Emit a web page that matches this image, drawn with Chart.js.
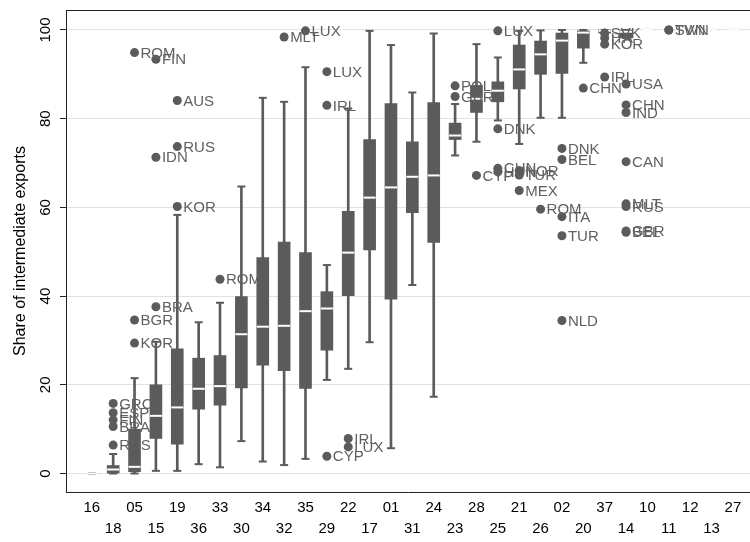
<!DOCTYPE html>
<html>
<head>
<meta charset="utf-8">
<script src="https://cdn.jsdelivr.net/npm/chart.js@4.4.1/dist/chart.umd.min.js"></script>
<style>
  body { margin: 0; background: #fff; }
</style>
</head>
<body>
<canvas id="boxChart" width="750" height="542"></canvas>
<script>
// industry codes, in the order they sit along the x axis
var codes = ['16', '18', '05', '15', '19', '36', '33', '30', '34', '32', '35', '29', '22', '17', '01', '31',
             '24', '23', '28', '25', '21', '26', '02', '20', '37', '14', '10', '11', '12', '13', '27'];

// box statistics per code
var whiskerLow  = [0, 0, 0, 0.6, 0.6, 2.1, 1.4, 7.3, 2.7, 1.9, 3.3, 21.1, 23.6, 29.6, 5.7, 42.5,
                   17.3, 71.7, 74.8, 79.6, 74.3, 80.2, 80.2, 92.6, 99.0, 98.2, 100, 100, 100, 100, 100];
var q1          = [0, 0.1, 0.4, 7.9, 6.6, 14.5, 15.4, 19.3, 24.4, 23.2, 19.2, 27.8, 40.1, 50.4, 39.3, 58.8,
                   52.1, 75.3, 81.4, 83.8, 86.7, 90.0, 90.2, 95.9, 99.3, 98.2, 100, 100, 100, 100, 100];
var median      = [0, 0.9, 1.5, 13.0, 14.9, 19.1, 19.7, 31.4, 33.1, 33.3, 36.6, 37.2, 49.8, 62.2, 64.5, 66.9,
                   67.2, 76.2, 84.5, 86.3, 91.1, 94.5, 97.6, 99.4, 99.8, 99.6, 100, 100, 100, 100, 100];
var q3          = [0, 1.8, 10.0, 20.0, 28.1, 26.0, 26.6, 39.9, 48.7, 52.2, 49.8, 41.0, 59.1, 75.3, 83.4, 74.8,
                   83.6, 79.0, 87.5, 88.3, 96.6, 97.5, 99.3, 99.8, 100, 100, 100, 100, 100, 100, 100];
var whiskerHigh = [0, 4.4, 21.5, 29.7, 58.3, 34.1, 38.5, 64.7, 84.7, 83.8, 91.6, 47.0, 82.3, 99.8, 96.6, 85.9,
                   99.2, 83.3, 96.8, 93.8, 99.8, 99.9, 100, 100, 100, 100, 100, 100, 100, 100, 100];

// outside values with their country labels
var outlierCode = ['05', '05', '05', '18', '18', '18', '18', '18', '15', '15', '15', '19', '19', '19',
                   '33', '32', '35', '29', '29', '29', '22', '22', '23', '23', '28', '25', '25', '25', '25',
                   '21', '21', '21', '26', '02', '02', '02', '02', '02', '20', '37', '37', '37', '37',
                   '14', '14', '14', '14', '14', '14', '14', '14', '11', '11'];
var outlierValue = [94.9, 34.6, 29.4, 15.8, 13.7, 12.1, 10.6, 6.4, 93.4, 71.3, 37.6, 84.1, 73.7, 60.2,
                    43.8, 98.4, 99.8, 90.6, 83.0, 3.9, 7.9, 6.0, 87.4, 85.0, 67.2, 99.8, 77.7, 68.8, 68.0,
                    68.3, 67.3, 63.8, 59.6, 73.3, 70.8, 57.9, 53.6, 34.5, 86.9, 99.3, 98.2, 96.8, 89.4,
                    87.8, 83.1, 81.4, 70.3, 60.8, 60.2, 54.7, 54.4, 100, 100];
var outlierName = ['ROM', 'BGR', 'KOR', 'GRC', 'ESP', 'FIN', 'BRA', 'RUS', 'FIN', 'IDN', 'BRA', 'AUS', 'RUS', 'KOR',
                   'ROM', 'MLT', 'LUX', 'LUX', 'IRL', 'CYP', 'IRL', 'LUX', 'POL', 'GBR', 'CYP', 'LUX', 'DNK', 'CHN', 'HUN',
                   'NOR', 'TUR', 'MEX', 'ROM', 'DNK', 'BEL', 'ITA', 'TUR', 'NLD', 'CHN', 'SVK', 'ITA', 'KOR', 'IRL',
                   'USA', 'CHN', 'IND', 'CAN', 'MLT', 'RUS', 'GBR', 'BEL', 'TWN', 'SVN'];

var yTicks = [0, 20, 40, 60, 80, 100];

var grey = '#5b5b5b';
var fontFamily = '"Liberation Sans", Arial, sans-serif';

var caps = [];
codes.forEach(function(c, i) {
    caps.push({x: i, y: whiskerLow[i]});
    caps.push({x: i, y: whiskerHigh[i]});
});

var outlierLabels = {
    id: 'outlierLabels',
    afterDatasetsDraw: function(chart) {
        var ctx = chart.ctx;
        var meta = chart.getDatasetMeta(0);
        ctx.save();
        ctx.font = '15px ' + fontFamily;
        ctx.fillStyle = '#606060';
        ctx.textBaseline = 'middle';
        meta.data.forEach(function(pt, k) {
            ctx.fillText(outlierName[k], pt.x + 6, pt.y + 1);
        });
        // top edge of the plot frame
        var a = chart.chartArea;
        ctx.strokeStyle = '#222';
        ctx.lineWidth = 1;
        ctx.beginPath();
        ctx.moveTo(a.left, a.top + 0.5);
        ctx.lineTo(a.right, a.top + 0.5);
        ctx.stroke();
        ctx.restore();
    }
};

var ctx = document.getElementById('boxChart').getContext('2d');
var boxChart = new Chart(ctx, {
    type: 'bar',
    data: {
        datasets: [{
            type: 'scatter',
            label: 'outside values',
            data: outlierCode.map(function(c, k) { return {x: codes.indexOf(c), y: outlierValue[k]}; }),
            pointRadius: 4.5,
            pointBackgroundColor: grey,
            pointBorderWidth: 0,
            order: 0
        }, {
            type: 'scatter',
            label: 'median',
            data: median.map(function(v, i) { return {x: i, y: v}; }),
            pointStyle: 'line',
            pointRadius: 6,
            pointBorderColor: '#ffffff',
            pointBorderWidth: 2,
            order: 1
        }, {
            label: 'box',
            data: q1.map(function(v, i) { return {x: i, y: [v, q3[i]]}; }),
            backgroundColor: grey,
            barThickness: 12,
            grouped: false,
            order: 2
        }, {
            type: 'scatter',
            label: 'caps',
            data: caps,
            pointStyle: 'line',
            pointRadius: 4,
            pointBorderColor: grey,
            pointBorderWidth: 2,
            order: 3
        }, {
            label: 'whiskers',
            data: whiskerLow.map(function(v, i) { return {x: i, y: [v, whiskerHigh[i]]}; }),
            backgroundColor: grey,
            barThickness: 2,
            grouped: false,
            order: 4
        }]
    },
    options: {
        responsive: false,
        animation: false,
        devicePixelRatio: 1,
        layout: {
            autoPadding: false,
            padding: {top: 10, right: 0, left: 0, bottom: 0}
        },
        scales: {
            x: {
                type: 'linear',
                offset: false,
                min: -1.207,
                max: 30.8,
                afterBuildTicks: function(scale) {
                    scale.ticks = codes.map(function(c, i) { return {value: i}; });
                },
                afterFit: function(scale) {
                    scale.height = 50;
                    scale.paddingLeft = 0;
                    scale.paddingRight = 0;
                },
                ticks: {
                    autoSkip: false,
                    maxRotation: 0,
                    minRotation: 0,
                    padding: 5,
                    color: '#000',
                    font: {family: fontFamily, size: 15, lineHeight: 1.4},
                    callback: function(value, index) {
                        var lbl = codes[value];
                        return index % 2 === 0 ? [lbl, ''] : ['', lbl];
                    }
                },
                grid: {display: false, drawTicks: false},
                border: {display: true, color: '#222', width: 1}
            },
            y: {
                min: -4.17,
                max: 104.5,
                afterBuildTicks: function(scale) {
                    scale.ticks = yTicks.map(function(v) { return {value: v}; });
                },
                afterFit: function(scale) {
                    scale.width = 66;
                    scale.paddingTop = 0;
                    scale.paddingBottom = 0;
                },
                ticks: {
                    minRotation: 90,
                    maxRotation: 90,
                    crossAlign: 'center',
                    padding: 2,
                    color: '#000',
                    font: {family: fontFamily, size: 15}
                },
                grid: {
                    color: '#e2e2e2',
                    tickColor: '#222',
                    tickLength: 6
                },
                border: {display: true, color: '#222', width: 1},
                title: {
                    display: true,
                    text: 'Share of intermediate exports',
                    color: '#000',
                    font: {family: fontFamily, size: 16},
                    padding: {top: 11, bottom: 0}
                }
            }
        },
        plugins: {
            legend: {display: false},
            tooltip: {enabled: false}
        }
    },
    plugins: [outlierLabels]
});
</script>
</body>
</html>
